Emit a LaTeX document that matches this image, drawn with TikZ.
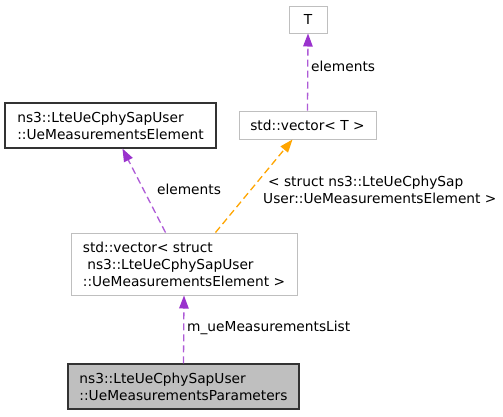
\documentclass[tikz,border=0pt]{standalone}
\usepackage{fontspec}
\setmainfont{DejaVu Sans}
\usetikzlibrary{arrows.meta,calc}
\definecolor{edgepurple}{HTML}{9A32CD}
\definecolor{edgeorange}{HTML}{FFA500}
\definecolor{boxgrey}{HTML}{BFBFBF}
\begin{document}
\begin{tikzpicture}[x=1pt,y=-1pt,
  every node/.style={font=\fontsize{13.75}{17}\selectfont},
  graybox/.style={draw=boxgrey,line width=1pt,fill=white,inner sep=0pt,align=left},
  blackbox/.style={draw=black!80,line width=1.1pt,fill=white,inner sep=0pt,align=left},
  mainbox/.style={draw=black!80,line width=1.1pt,fill=boxgrey,inner sep=0pt,align=left},
  pedge/.style={draw=edgepurple!80,line width=1.3pt,dash pattern=on 7pt off 4pt,
     -{Triangle[length=13pt,width=9.5pt,fill=edgepurple,color=edgepurple]}},
  oedge/.style={draw=edgeorange,line width=1.3pt,dash pattern=on 7pt off 4pt,
     -{Triangle[length=13pt,width=9.5pt,fill=edgeorange,color=edgeorange]}},
  lbl/.style={inner sep=0pt,align=left}]
\useasboundingbox (0,0) rectangle (503,416);
\node[graybox,minimum width=38pt,minimum height=27pt] (T) at (308,19.5) {T};
\node[graybox,minimum width=137pt,minimum height=28pt] (vecT) at (307.5,125) {std::vector< T >};
\node[blackbox,minimum width=211pt,minimum height=45pt] (elem) at (110.5,125.5) {ns3::LteUeCphySapUser\\::UeMeasurementsElement};
\node[graybox,minimum width=226pt,minimum height=62pt] (vecS) at (184,264) {std::vector< struct\\\ ns3::LteUeCphySapUser\\::UeMeasurementsElement >};
\node[mainbox,minimum width=231pt,minimum height=45pt] (par) at (183.5,386.5) {ns3::LteUeCphySapUser\\::UeMeasurementsParameters};
\coordinate (vecTtail) at (vecT.north);
\coordinate (Thead) at (T.south);
\coordinate (sA) at ($(vecS.north west)+(95,0)$);
\coordinate (eA) at ($(elem.south west)+(118,0)$);
\coordinate (sB) at ($(vecS.north west)+(145,0)$);
\coordinate (tB) at ($(vecT.south west)+(54,0)$);
\coordinate (pA) at (par.north);
\coordinate (sC) at (vecS.south);
\draw[pedge] (vecTtail) -- (Thead);
\draw[pedge] (sA) -- (eA);
\draw[oedge] (sB) -- (tB);
\draw[pedge] (pA) -- (sC);
\node[lbl,anchor=west] (l1) at (311,66) {elements};
\node[lbl] (l2) at (189,189) {elements};
\node[lbl,anchor=west] (l3) at (263,189.5) {\hspace{5pt}< struct ns3::LteUeCphySap\\User::UeMeasurementsElement >};
\node[lbl,anchor=west] (l4) at (187,328) {m\_ueMeasurementsList};
\end{tikzpicture}
\end{document}
